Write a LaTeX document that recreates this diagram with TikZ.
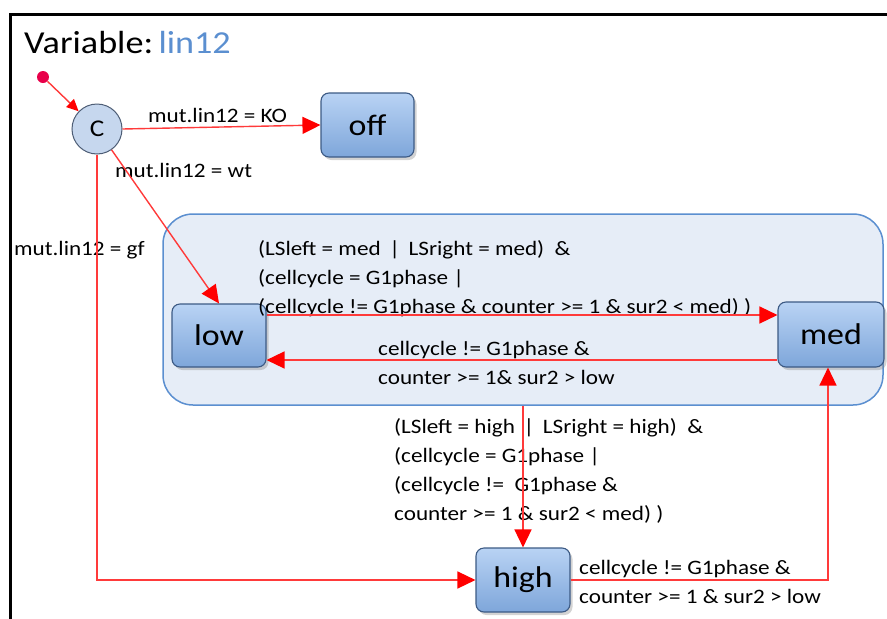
\documentclass[tikz,border=0pt]{standalone}
\usepackage{fontspec}
\setmainfont{Carlito}[FakeStretch=1.13]
\usetikzlibrary{arrows.meta,shadows}
\definecolor{varblue}{HTML}{5B8FD0}
\definecolor{trred}{HTML}{FF3A3A}
\definecolor{initred}{HTML}{E8004A}
\definecolor{boxedge}{HTML}{3C5A84}
\definecolor{boxtop}{HTML}{B9D3F4}
\definecolor{boxbot}{HTML}{7EA6DA}
\definecolor{grpfill}{HTML}{E6EDF7}
\definecolor{grpedge}{HTML}{5B8FD0}
\definecolor{condfill}{HTML}{C6D7EE}
\definecolor{condedge}{HTML}{4D5D75}
\tikzset{
  statebox/.style={rectangle, rounded corners=8pt, draw=boxedge, line width=1.1pt,
    top color=boxtop, bottom color=boxbot, inner sep=0pt,
    font=\fontsize{30}{32}\selectfont,
    drop shadow={opacity=0.35, shadow xshift=2.5pt, shadow yshift=-3pt}},
  trans/.style={color=trred, line width=1.4pt,
    -{Triangle[length=18pt,width=17pt,fill=red,color=red]}},
  guard/.style={anchor=base west, inner sep=0pt, align=left,
    font=\fontsize{20.5}{28.7}\selectfont}
}
\begin{document}
\begin{tikzpicture}[x=1pt,y=-1pt]
\useasboundingbox (0,0) rectangle (887,619);
% outer frame (only top and left edges are visible)
\draw[line width=3pt] (10,619) -- (10,14) -- (887,14);

% title
\node[anchor=base west, inner sep=0pt, font=\fontsize{32}{34}\selectfont] (title) at (24,53)
  {Variable:\,\textcolor{varblue}{lin12}};

% composite state containing low and med
\node[rectangle, rounded corners=30pt, draw=grpedge, line width=1.5pt, fill=grpfill,
  minimum width=720pt, minimum height=191pt, inner sep=0pt] (grp) at (523,309.5) {};

% initial pseudo-state and choice node
\node[circle, fill=initred, minimum size=12pt, inner sep=0pt] (init) at (43,77) {};
\node[circle, draw=condedge, line width=1pt, fill=condfill, minimum size=50pt, inner sep=0pt,
  font=\fontsize{24}{26}\selectfont] (C) at (97,129) {C};

% states
\node[statebox, minimum width=93pt, minimum height=64pt] (off) at (367.5,125) {off};
\node[statebox, minimum width=94pt, minimum height=63pt] (low) at (219,335.5) {low};
\node[statebox, minimum width=106pt, minimum height=65pt] (med) at (831,334.5) {med};
\node[statebox, minimum width=94pt, minimum height=64pt] (high) at (523,580) {high};

% guards (multi-line nodes are anchored at the baseline of their last line)
\node[guard] (gKO) at (148,122) {mut.lin12 = KO};
\node[guard] (gwt) at (115,177) {mut.lin12 = wt};
\node[guard] (ggf) at (14,255) {mut.lin12 = gf};
\node[guard] (glm) at (258,313) {(LSleft = med \,|\, LSright = med)\ \ \&\\(cellcycle = G1phase |\\(cellcycle != G1phase \& counter >= 1 \& sur2 < med) )};
\node[guard] (gml) at (378,384) {cellcycle != G1phase \&\\counter >= 1\& sur2 > low};
\node[guard] (gh) at (394,520) {(LSleft = high \,|\, LSright = high)\ \ \&\\(cellcycle = G1phase |\\(cellcycle !=\ \ G1phase \&\\counter >= 1 \& sur2 < med) )};
\node[guard] (ghm) at (579,603) {cellcycle != G1phase \&\\counter >= 1 \& sur2 > low};

% transitions
\draw[color=trred, line width=1.4pt, -{Triangle[length=12pt,width=11pt,fill=red,color=red]}] (init) -- (C);
\draw[trans] (C.east) -- (off.west);
\draw[trans] (C) -- (low.north);
\draw[trans] (C.south) |- (high.west);
\draw[trans] ([yshift=20.5pt]low.east) -- ([yshift=20.5pt]low.east -| med.west);
\draw[trans] ([yshift=-24.5pt]low.east -| med.west) -- ([yshift=-24.5pt]low.east);
\draw[trans] (grp.south) -- (high.north);
\draw[trans] (high.east) -| ([xshift=-3pt]med.south);
\end{tikzpicture}
\end{document}
